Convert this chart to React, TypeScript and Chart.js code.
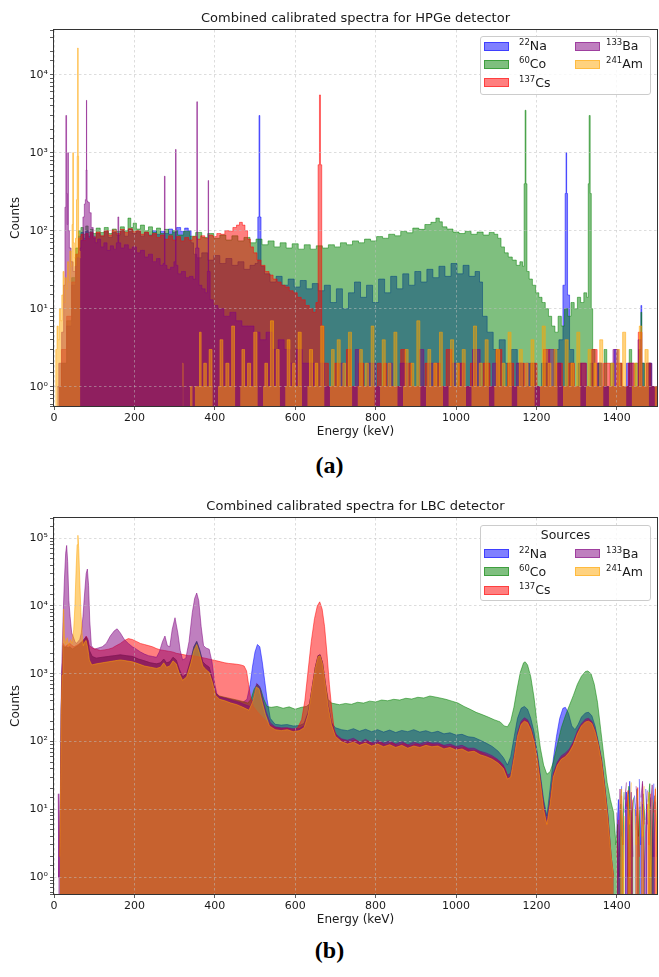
import React, { useEffect, useRef } from "react";
import { Chart, registerables } from "chart.js";
Chart.register(...registerables);

type Pt = [number, number];

// ---------------- shared labels ----------------
const ENERGY_MIN = 0;
const ENERGY_MAX = 1500;
const ENERGY_STEP = 200;
const SOURCE_MASS = ["22", "60", "137", "133", "241"];
const SOURCE_SYMBOL = ["Na", "Co", "Cs", "Ba", "Am"];
const HPGE_TITLE = "Combined calibrated spectra for HPGe detector";
const LBC_TITLE = "Combined calibrated spectra for LBC detector";
const HPGE_COUNTS_RANGE = [0.566, 37400];
const LBC_COUNTS_RANGE = [0.566, 198000];

// ---------------- (a) HPGe spectra: [energy keV, counts] ----------------
const HPGE_NA: Pt[] = [[0,0],[12,1],[25,2],[38,6],[50,20],[58,50],[64,85],[70,95],[76,80],[82,100],[88,85],[94,95],[100,80],[110,92],[120,85],[130,98],[140,82],[150,95],[160,88],[170,100],[180,85],[190,105],[200,92],[210,98],[220,85],[230,95],[240,88],[250,100],[260,90],[270,98],[280,92],[290,105],[300,95],[310,110],[320,98],[330,108],[338,100],[344,70],[350,50],[360,45],[375,52],[390,42],[405,48],[420,38],[435,44],[450,36],[465,40],[480,32],[495,36],[505,38],[509,150],[511,3000],[513,150],[517,35],[530,28],[545,22],[560,26],[575,20],[590,24],[605,19],[620,23],[635,18],[650,21],[665,17],[680,20],[695,12],[710,18],[725,10],[740,16],[755,22],[770,14],[785,20],[800,12],[815,24],[830,16],[845,26],[860,18],[875,28],[890,20],[905,30],[920,22],[935,32],[950,25],[965,35],[980,26],[995,38],[1010,28],[1025,36],[1040,26],[1055,30],[1062,22],[1070,8],[1085,5],[1100,3],[1115,4],[1130,2],[1145,3],[1160,2],[1175,1],[1190,2],[1205,1],[1220,2],[1235,1],[1250,3],[1262,4],[1270,20],[1273,300],[1274.5,1000],[1276,300],[1279,15],[1286,3],[1300,1],[1308,2],[1315,1],[1330,1],[1338,2],[1345,1],[1360,2],[1368,1],[1375,1],[1390,1],[1398,3],[1405,1],[1420,1],[1428,2],[1435,1],[1450,1],[1459,3],[1461,11],[1463,2],[1475,1],[1482,2],[1490,1],[1500,1]];

const HPGE_CO: Pt[] = [[0,0],[12,1],[25,2],[38,7],[50,25],[58,60],[64,100],[70,110],[76,90],[82,115],[88,95],[94,105],[100,92],[110,108],[120,95],[130,110],[140,92],[150,105],[160,98],[170,112],[180,100],[188,145],[194,110],[200,125],[210,105],[220,118],[230,100],[240,112],[250,95],[260,108],[270,92],[280,104],[290,90],[300,100],[315,88],[330,98],[345,85],[360,95],[375,82],[390,92],[405,80],[420,88],[435,76],[450,86],[465,74],[480,82],[495,70],[510,78],[525,66],[540,74],[555,62],[570,70],[585,60],[600,68],[615,58],[630,66],[645,58],[660,64],[675,60],[690,66],[705,62],[720,70],[735,66],[750,74],[765,70],[780,78],[795,74],[810,84],[825,80],[840,90],[855,86],[870,98],[885,94],[900,108],[915,104],[930,120],[945,128],[955,145],[962,130],[970,112],[985,105],[1000,96],[1015,92],[1030,98],[1045,90],[1060,96],[1075,88],[1090,95],[1100,90],[1108,80],[1116,62],[1125,52],[1135,46],[1145,42],[1155,36],[1163,40],[1168,35],[1171,400],[1173,3500],[1175,400],[1178,30],[1186,24],[1194,20],[1202,16],[1210,14],[1218,12],[1226,10],[1234,8],[1242,6],[1250,5],[1258,8],[1266,6],[1274,10],[1282,8],[1290,12],[1298,10],[1306,14],[1314,12],[1322,16],[1328,14],[1330,400],[1332.5,3000],[1335,300],[1338,10],[1342,3],[1350,1],[1356,2],[1365,1],[1372,3],[1378,1],[1390,2],[1396,1],[1402,1],[1410,2],[1415,1],[1428,1],[1434,3],[1440,1],[1452,2],[1459,3],[1461,9],[1463,2],[1475,1],[1483,2],[1488,1],[1500,1]];

const HPGE_CS: Pt[] = [[0,0],[12,1],[25,3],[38,8],[50,22],[58,50],[64,80],[70,90],[76,75],[82,92],[88,80],[94,95],[100,82],[110,96],[120,86],[130,100],[140,88],[150,102],[160,92],[170,104],[180,95],[190,106],[200,98],[210,100],[220,90],[230,96],[240,86],[250,92],[260,82],[270,88],[280,78],[290,86],[300,76],[310,84],[320,74],[330,82],[340,76],[350,84],[360,78],[370,86],[380,80],[390,88],[400,84],[410,92],[420,90],[430,100],[440,98],[450,110],[458,118],[465,128],[472,118],[478,100],[485,78],[492,62],[500,52],[510,42],[520,36],[530,30],[540,27],[550,24],[560,22],[570,20],[580,19],[590,17],[600,16],[610,14],[620,13],[630,11],[640,10],[648,9],[655,12],[659,700],[661.7,5500],[664,700],[668,6],[675,2],[690,1],[706,2],[712,1],[718,1],[737,3],[741,1],[749,1],[768,2],[773,1],[797,1],[812,2],[816,1],[824,2],[830,1],[853,1],[872,3],[876,1],[887,2],[892,1],[917,1],[929,2],[934,1],[958,2],[963,1],[988,3],[992,1],[1019,2],[1024,1],[1048,2],[1053,1],[1082,2],[1087,1],[1112,3],[1116,1],[1141,2],[1146,1],[1168,2],[1173,1],[1199,2],[1204,1],[1231,3],[1235,1],[1262,2],[1267,1],[1292,2],[1297,1],[1321,2],[1326,1],[1349,3],[1353,1],[1381,2],[1386,1],[1411,2],[1416,1],[1441,2],[1446,1],[1461,5],[1464,1],[1481,2],[1486,1],[1500,1]];

const HPGE_BA: Pt[] = [[0,0],[8,1],[16,2],[22,5],[26,20],[28.5,200],[30.5,3000],[32,300],[33.5,120],[35,1000],[36.5,100],[40,60],[45,40],[50,30],[55,35],[60,45],[65,60],[70,75],[74,150],[77,220],[79,250],[80.5,600],[81,4700],[81.5,600],[83,240],[86,230],[90,170],[95,110],[100,85],[105,70],[112,78],[120,62],[128,70],[136,56],[144,64],[152,58],[158,70],[160,150],[162,70],[170,60],[180,66],[190,58],[200,62],[210,52],[220,56],[230,46],[240,50],[250,40],[260,44],[268,36],[274,38],[275.5,500],[277,36],[285,32],[295,34],[301.5,40],[303,1100],[304.5,36],[312,28],[322,30],[332,25],[342,26],[350,24],[354.5,60],[356,4500],[357.5,60],[364,20],[372,18],[380,16],[383,30],[384,440],[385,30],[392,13],[400,11],[415,10],[430,8],[445,9],[460,7],[475,6],[490,6],[505,5],[520,4],[535,5],[550,3],[565,4],[580,3],[595,2],[610,3],[625,2],[640,2],[655,1],[670,2],[675,1],[702,1],[719,2],[724,1],[741,1],[758,3],[762,1],[798,2],[803,1],[822,1],[839,2],[844,1],[878,2],[883,1],[901,1],[918,3],[922,1],[942,2],[947,1],[981,1],[999,2],[1004,1],[1019,2],[1024,1],[1058,3],[1062,1],[1083,1],[1099,2],[1104,1],[1138,1],[1162,2],[1167,1],[1179,2],[1184,1],[1218,1],[1243,3],[1247,1],[1258,2],[1263,1],[1299,1],[1322,2],[1327,1],[1338,1],[1361,2],[1366,1],[1379,1],[1402,3],[1406,1],[1418,1],[1441,2],[1446,1],[1460,4],[1463,1],[1485,2],[1490,1],[1500,1]];

const HPGE_AM: Pt[] = [[0,0],[3,1],[6,3],[9,6],[12,4],[15,10],[18,7],[21,15],[24,30],[26,12],[29,25],[32,18],[35,40],[38,22],[41,55],[44,35],[46,120],[47.5,1000],[49,70],[52,45],[55,80],[57,250],[58.5,900],[59.5,22000],[60.5,900],[62,90],[64,55],[65.5,45],[66.5,0],[192,0],[193,1],[194,0],[204,0],[205,1],[206,0],[214,0],[215,4],[216,0],[226,1],[228,0],[238,0],[239,1],[240,0],[251,0],[252,6],[253,0],[262,1],[264,0],[270,1],[271,0],[280,1],[282,0],[291,3],[292,0],[300,1],[303,0],[310,1],[313,0],[320,2],[322,1],[326,0],[330,1],[334,0],[338,1],[345,1],[347,0],[350,1],[360,1],[364,5],[368,1],[377,2],[381,1],[391,3],[395,1],[404,0],[408,1],[418,4],[422,1],[433,2],[437,1],[447,6],[451,1],[459,0],[463,1],[472,3],[476,1],[487,2],[491,1],[503,5],[507,1],[516,0],[520,1],[529,2],[533,1],[544,7],[548,1],[558,3],[562,1],[571,0],[575,1],[585,4],[589,1],[598,2],[602,1],[613,5],[617,1],[626,0],[630,1],[641,3],[645,1],[654,2],[658,1],[669,6],[673,1],[682,0],[686,1],[695,3],[699,1],[710,4],[714,1],[723,2],[727,1],[738,5],[742,1],[751,0],[755,1],[765,3],[769,1],[780,2],[784,1],[794,6],[798,1],[807,0],[811,1],[822,4],[826,1],[836,2],[840,1],[851,5],[855,1],[864,0],[868,1],[879,3],[883,1],[893,2],[897,1],[908,7],[912,1],[921,0],[925,1],[935,3],[939,1],[950,2],[954,1],[964,5],[968,1],[977,0],[981,1],[992,4],[996,1],[1006,2],[1010,1],[1021,3],[1025,1],[1034,0],[1038,1],[1049,6],[1053,1],[1063,2],[1067,1],[1078,4],[1082,1],[1091,0],[1095,1],[1106,3],[1110,1],[1120,2],[1124,1],[1135,5],[1139,1],[1148,0],[1152,1],[1163,3],[1167,1],[1177,2],[1181,1],[1192,4],[1196,1],[1205,0],[1209,1],[1220,6],[1224,1],[1234,2],[1238,1],[1249,3],[1253,1],[1262,0],[1266,1],[1277,4],[1281,1],[1291,2],[1295,1],[1306,5],[1310,1],[1319,0],[1323,1],[1334,3],[1338,1],[1348,2],[1352,1],[1363,4],[1367,1],[1376,0],[1380,1],[1391,2],[1395,1],[1405,3],[1409,1],[1420,5],[1424,1],[1433,0],[1437,1],[1448,2],[1452,1],[1460,6],[1464,1],[1476,3],[1480,1],[1490,0],[1494,1],[1500,1]];

// ---------------- (b) LBC spectra: [energy keV, counts] ----------------
const LBC_NA: Pt[] = [[0,0],[12,0],[14,2],[16,12],[18,280],[20,1000],[23,2600],[27,2400],[31,2500],[35,2400],[40,2500],[45,2300],[50,2400],[55,2500],[60,2600],[65,2800],[70,3000],[75,3200],[80,3500],[84,3100],[88,2200],[95,1800],[105,1700],[120,1750],[135,1800],[150,1850],[165,1900],[180,1850],[195,1800],[210,1650],[225,1550],[240,1450],[255,1400],[265,1450],[273,1650],[280,1450],[288,1500],[296,1750],[304,1600],[312,1150],[320,900],[330,1000],[340,1600],[348,2500],[355,3000],[362,2300],[370,1500],[378,1350],[386,1250],[394,850],[402,520],[412,460],[425,440],[440,420],[455,400],[470,380],[480,420],[488,700],[494,1300],[500,2100],[506,2700],[512,2500],[518,1500],[524,800],[530,420],[538,220],[550,180],[565,175],[580,178],[595,170],[610,172],[622,185],[632,270],[642,620],[650,1250],[657,1850],[662,1900],[668,1450],[675,730],[682,350],[690,190],[700,160],[715,150],[730,145],[745,155],[760,142],[775,152],[790,140],[805,150],[820,138],[835,148],[850,136],[865,146],[880,140],[895,150],[910,138],[925,145],[940,135],[955,142],[970,130],[985,135],[1000,125],[1015,128],[1030,118],[1045,115],[1060,105],[1075,95],[1090,85],[1105,72],[1118,58],[1128,45],[1136,60],[1145,120],[1153,220],[1162,310],[1170,330],[1178,300],[1186,220],[1194,140],[1202,70],[1210,32],[1218,14],[1226,8],[1234,20],[1242,55],[1250,120],[1258,220],[1266,310],[1272,320],[1280,260],[1288,170],[1296,150],[1304,180],[1312,230],[1322,265],[1330,270],[1338,240],[1346,170],[1354,100],[1362,55],[1370,22],[1378,8],[1386,2],[1392,1],[1396,0],[1400,4],[1404,14],[1408,2],[1412,22],[1416,0],[1420,9],[1424,18],[1428,1],[1432,26],[1436,5],[1440,0],[1444,16],[1448,8],[1452,0],[1456,28],[1460,3],[1464,12],[1468,0],[1472,20],[1476,6],[1480,0],[1484,15],[1488,2],[1492,24],[1496,0],[1500,8]];

const LBC_CO: Pt[] = [[0,0],[12,0],[14,2],[16,12],[18,280],[20,1000],[23,2600],[27,2400],[31,2500],[35,2400],[40,2500],[45,2300],[50,2400],[55,2500],[60,2600],[65,2800],[70,3000],[75,3200],[80,3500],[84,3100],[88,2200],[95,1800],[105,1700],[120,1750],[135,1800],[150,1850],[165,1900],[180,1850],[195,1800],[210,1650],[225,1550],[240,1450],[255,1400],[265,1450],[273,1650],[280,1450],[288,1500],[296,1750],[304,1600],[312,1150],[320,900],[330,1000],[340,1600],[348,2500],[355,3000],[362,2300],[370,1500],[378,1350],[386,1250],[394,850],[402,520],[412,470],[425,450],[440,430],[455,410],[470,390],[482,370],[490,420],[498,600],[506,700],[514,600],[522,420],[530,330],[540,320],[555,330],[570,310],[585,325],[600,300],[615,320],[628,330],[636,360],[642,620],[650,1250],[657,1850],[662,1900],[668,1450],[675,730],[682,420],[690,370],[700,360],[710,350],[725,365],[740,355],[755,380],[770,370],[785,395],[800,385],[815,410],[830,400],[845,420],[860,410],[875,435],[890,425],[905,450],[920,440],[935,470],[948,455],[960,440],[975,420],[990,395],[1005,370],[1020,330],[1035,300],[1050,270],[1065,250],[1080,230],[1095,210],[1110,195],[1120,170],[1128,165],[1136,200],[1144,320],[1152,600],[1160,1050],[1168,1450],[1172,1500],[1178,1350],[1186,900],[1194,450],[1202,180],[1210,80],[1218,45],[1226,33],[1234,36],[1242,50],[1252,90],[1262,160],[1272,240],[1282,340],[1292,480],[1302,700],[1312,920],[1322,1080],[1328,1100],[1336,1000],[1344,700],[1352,380],[1360,150],[1368,60],[1376,25],[1384,14],[1392,9],[1398,3],[1402,6],[1406,1],[1410,12],[1414,3],[1418,18],[1422,0],[1426,10],[1430,22],[1434,2],[1438,8],[1442,15],[1446,0],[1450,20],[1454,4],[1458,11],[1462,0],[1466,17],[1470,7],[1474,0],[1478,13],[1482,24],[1486,1],[1490,9],[1494,16],[1498,0],[1500,5]];

const LBC_CS: Pt[] = [[0,0],[12,0],[14,2],[16,12],[18,300],[20,1000],[23,2800],[27,2500],[31,2600],[35,2700],[40,2800],[45,2600],[50,2500],[55,2600],[60,2700],[65,2800],[70,3000],[75,3200],[80,3600],[84,3300],[88,2600],[95,2400],[105,2300],[115,2200],[125,2250],[135,2300],[145,2400],[155,2600],[165,2800],[175,3100],[185,3300],[195,3200],[205,3000],[215,2800],[225,2700],[235,2600],[245,2500],[255,2350],[265,2250],[275,2200],[285,2150],[295,2100],[305,2000],[315,1950],[325,1900],[335,1850],[345,1850],[355,1800],[365,1750],[375,1700],[385,1650],[395,1600],[405,1550],[415,1500],[425,1450],[435,1420],[445,1400],[455,1380],[465,1350],[473,1300],[479,1100],[484,700],[489,450],[496,330],[505,280],[515,240],[525,210],[538,175],[552,160],[566,155],[580,158],[594,150],[606,160],[616,210],[624,400],[632,1100],[640,3000],[648,6500],[655,10000],[661,11500],[667,9000],[673,5000],[679,2000],[685,700],[691,300],[697,150],[705,115],[720,105],[735,100],[750,106],[765,95],[780,102],[795,92],[810,98],[825,90],[840,96],[855,88],[870,94],[885,86],[900,92],[915,88],[930,94],[945,90],[960,90],[975,84],[990,86],[1005,80],[1020,82],[1035,75],[1050,74],[1065,68],[1080,62],[1095,57],[1110,50],[1122,40],[1130,29],[1138,32],[1146,64],[1154,125],[1162,190],[1170,210],[1178,200],[1186,158],[1194,105],[1202,58],[1210,26],[1218,11],[1226,6],[1234,13],[1242,32],[1252,47],[1262,58],[1272,63],[1282,74],[1292,95],[1302,135],[1312,175],[1322,200],[1330,210],[1338,192],[1346,145],[1354,92],[1362,52],[1370,21],[1378,7],[1386,2],[1392,1],[1396,0],[1400,2],[1404,7],[1408,0],[1412,16],[1416,3],[1420,0],[1424,11],[1428,19],[1432,1],[1436,8],[1440,14],[1444,0],[1448,5],[1452,21],[1456,2],[1460,0],[1464,24],[1468,6],[1472,0],[1476,12],[1480,3],[1484,17],[1488,0],[1492,9],[1496,20],[1500,2]];

const LBC_BA: Pt[] = [[0,0],[9,0],[10.5,17],[12,1],[14,3],[16,20],[18,450],[20,1800],[23,8000],[26,25000],[29,60000],[31.5,78000],[34,45000],[37,12000],[40,7000],[44,4000],[48,3500],[52,3000],[56,2800],[60,3000],[64,3200],[68,4000],[72,7000],[76,15000],[80,30000],[83,35000],[86,20000],[89,6000],[93,2600],[100,2300],[110,2400],[120,2500],[130,2800],[140,3600],[150,4300],[157,4600],[165,4000],[175,3200],[185,2800],[195,2500],[205,2300],[215,2100],[225,1950],[235,1850],[245,1800],[255,1750],[262,2100],[270,3000],[276,3600],[282,2600],[288,2500],[294,4500],[301,6700],[308,4000],[314,2200],[320,1600],[328,1700],[336,3000],[344,8000],[350,13000],[355,15500],[360,12000],[366,5000],[372,2600],[378,2400],[386,2300],[393,1500],[400,700],[406,480],[415,450],[430,430],[445,400],[460,380],[475,350],[488,330],[496,430],[504,720],[512,650],[520,400],[528,270],[538,190],[550,165],[565,160],[580,160],[595,155],[610,155],[622,170],[632,260],[642,620],[650,1250],[657,1850],[662,1900],[668,1450],[675,730],[682,350],[690,195],[700,130],[715,110],[730,105],[745,112],[760,98],[775,108],[790,96],[805,105],[820,95],[835,102],[850,92],[865,100],[880,90],[895,98],[910,92],[925,100],[940,95],[955,96],[970,88],[985,92],[1000,85],[1015,88],[1030,80],[1045,80],[1060,72],[1075,68],[1090,62],[1105,54],[1118,45],[1128,32],[1136,34],[1145,68],[1153,135],[1162,200],[1170,225],[1178,210],[1186,165],[1194,110],[1202,60],[1210,28],[1218,12],[1226,7],[1234,14],[1242,34],[1252,50],[1262,62],[1272,68],[1282,78],[1292,100],[1302,145],[1312,185],[1322,215],[1330,220],[1338,200],[1346,150],[1354,95],[1362,55],[1370,22],[1378,8],[1386,2],[1392,1],[1396,0],[1400,9],[1404,1],[1408,20],[1412,4],[1416,0],[1420,14],[1424,25],[1428,0],[1432,7],[1436,18],[1440,2],[1444,0],[1448,22],[1452,10],[1456,0],[1460,15],[1464,26],[1468,1],[1472,6],[1476,19],[1480,0],[1484,11],[1488,23],[1492,2],[1496,13],[1500,0]];

const LBC_AM: Pt[] = [[0,0],[12,0],[14,2],[16,12],[18,250],[20,950],[22,2500],[24,9000],[26,3500],[29,2800],[33,3400],[37,2600],[41,3200],[45,2800],[49,4500],[52,10000],[55,35000],[57.5,80000],[59.5,110000],[61.5,70000],[64,25000],[67,8000],[70,3800],[73,2600],[77,3000],[80,3100],[84,2400],[88,1600],[94,1350],[105,1400],[120,1450],[135,1500],[150,1550],[165,1600],[180,1550],[195,1500],[210,1400],[225,1300],[240,1250],[255,1200],[265,1250],[273,1450],[280,1250],[288,1300],[296,1550],[304,1400],[312,1000],[320,800],[330,900],[340,1400],[348,2200],[355,2700],[362,2000],[370,1300],[378,1150],[386,1050],[394,750],[402,480],[412,420],[425,400],[440,370],[455,350],[470,320],[485,290],[495,400],[503,640],[510,600],[518,380],[526,250],[536,170],[550,150],[565,145],[580,150],[595,140],[610,145],[622,160],[632,250],[642,600],[650,1200],[657,1800],[662,1850],[668,1400],[675,700],[682,330],[690,180],[700,120],[715,100],[730,92],[745,98],[760,88],[775,95],[790,86],[805,92],[820,84],[835,90],[850,82],[865,88],[880,80],[895,86],[910,82],[925,88],[940,84],[955,86],[970,78],[985,82],[1000,75],[1015,78],[1030,70],[1045,72],[1060,64],[1075,60],[1090,55],[1105,48],[1118,40],[1128,28],[1136,30],[1145,60],[1153,120],[1162,180],[1170,200],[1178,190],[1186,150],[1194,100],[1202,55],[1210,25],[1218,10],[1226,6],[1234,12],[1242,30],[1252,45],[1262,55],[1272,60],[1282,70],[1292,90],[1302,130],[1312,170],[1322,195],[1330,200],[1338,185],[1346,140],[1354,90],[1362,50],[1370,20],[1378,7],[1386,2],[1392,1],[1396,0],[1400,5],[1404,0],[1408,12],[1412,20],[1416,1],[1420,8],[1424,0],[1428,17],[1432,6],[1436,25],[1440,0],[1444,10],[1448,3],[1452,19],[1456,0],[1460,13],[1464,4],[1468,22],[1472,0],[1476,9],[1480,18],[1484,1],[1488,14],[1492,0],[1496,21],[1500,4]];

const HPGE_SERIES = [HPGE_NA, HPGE_CO, HPGE_CS, HPGE_BA, HPGE_AM];
const LBC_SERIES = [LBC_NA, LBC_CO, LBC_CS, LBC_BA, LBC_AM];

// ---------------- styling ----------------
const RGB = ["0,0,255", "0,128,0", "255,0,0", "128,0,128", "255,165,0"];
const FONT = "'DejaVu Sans', 'Noto Sans', sans-serif";
const TEXT = "#1a1a1a";
const GRID = "rgba(190,190,190,0.65)";
const SUP: Record<string, string> = { "0": "⁰", "1": "¹", "2": "²", "3": "³", "4": "⁴", "5": "⁵", "6": "⁶", "-": "⁻" };

function isDecade(v: number) {
  if (!(v > 0)) return false;
  const e = Math.log10(v);
  return Math.abs(e - Math.round(e)) < 1e-6;
}
function decadeLabel(v: number) {
  if (!isDecade(v)) return "";
  const e = Math.round(Math.log10(v));
  return "10" + String(e).split("").map((c) => SUP[c]).join("");
}

const framePlugin = {
  id: "frame",
  afterDraw(chart: any) {
    const { ctx, chartArea: a } = chart;
    ctx.save();
    ctx.strokeStyle = "#333";
    ctx.lineWidth = 1;
    ctx.strokeRect(Math.round(a.left) - 0.5, Math.round(a.top) - 0.5, Math.round(a.right - a.left) + 1, Math.round(a.bottom - a.top) + 1);
    ctx.restore();
  },
};

function SpectrumChart(props: { title: string; series: Pt[][]; range: number[]; top: number; stepped: boolean }) {
  const ref = useRef<HTMLCanvasElement>(null);
  useEffect(() => {
    const datasets = props.series.map((s, i) => ({
      label: SOURCE_MASS[i] + SOURCE_SYMBOL[i],
      data: s.map(([x, y]) => ({ x, y })),
      borderColor: `rgba(${RGB[i]},0.5)`,
      backgroundColor: `rgba(${RGB[i]},0.5)`,
      borderWidth: 1,
      pointRadius: 0,
      tension: 0,
      stepped: props.stepped ? "middle" : false,
      fill: "start",
      order: props.series.length - i,
    }));
    const chart = new Chart(ref.current as HTMLCanvasElement, {
      type: "line",
      data: { datasets } as any,
      options: {
        animation: false,
        responsive: false,
        devicePixelRatio: 1,
        events: [],
        layout: { padding: { left: 0, right: 2, top: 0, bottom: 0 } },
        plugins: {
          legend: { display: false },
          tooltip: { enabled: false },
          title: {
            display: true,
            text: props.title,
            color: TEXT,
            fullSize: false,
            font: { family: FONT, size: 13, weight: "normal" },
            padding: { top: 10.4, bottom: 4 },
          },
        },
        scales: {
          x: {
            type: "linear",
            min: ENERGY_MIN,
            max: ENERGY_MAX,
            ticks: { stepSize: ENERGY_STEP, includeBounds: false, color: TEXT, font: { family: FONT, size: 11 }, padding: 2, maxRotation: 0, callback: (v: any) => String(v) },
            grid: { color: GRID, lineWidth: 0.8, z: 1, tickColor: "#333", tickLength: 4 },
            border: { display: false, dash: [2.5, 2.5] },
            title: { display: true, text: "Energy (keV)", color: TEXT, font: { family: FONT, size: 12 }, padding: { top: 0, bottom: 1 } },
            afterFit: (s: any) => { s.height = 34; },
          },
          y: {
            type: "logarithmic",
            min: props.range[0],
            max: props.range[1],
            ticks: { autoSkip: false, color: TEXT, font: { family: FONT, size: 11 }, padding: 2, callback: (v: any) => decadeLabel(Number(v)) },
            grid: {
              color: (c: any) => (c.tick && isDecade(c.tick.value) ? GRID : "rgba(0,0,0,0)"),
              lineWidth: 0.8,
              z: 1,
              tickColor: "#333",
              tickLength: 4,
            } as any,
            border: { display: false, dash: [2.5, 2.5] },
            title: { display: true, text: "Counts", color: TEXT, font: { family: FONT, size: 12 }, padding: { top: 9, bottom: 0 } },
            afterFit: (s: any) => { s.width = 54; },
          },
        },
      } as any,
      plugins: [framePlugin],
    });
    return () => chart.destroy();
  }, []);
  return <canvas ref={ref} width={659} height={440} style={{ position: "absolute", left: 0, top: props.top, width: 659, height: 440 }} />;
}

function Legend(props: { left: number; top: number; height: number; title?: string }) {
  const rowStart = props.title ? 28.5 : 10;
  return (
    <div
      style={{
        position: "absolute", left: props.left, top: props.top, width: 171, height: props.height,
        background: "rgba(255,255,255,0.8)", border: "1px solid #cccccc", borderRadius: 3,
        boxSizing: "border-box", fontFamily: FONT, fontSize: 12.5, color: TEXT,
      }}
    >
      {props.title && (
        <div style={{ position: "absolute", left: 0, width: 169, top: 1, textAlign: "center", lineHeight: "16px" }}>{props.title}</div>
      )}
      {SOURCE_SYMBOL.map((sym, i) => {
        const col = i < 3 ? 0 : 1;
        const row = i < 3 ? i : i - 3;
        const cy = rowStart + row * 18.3;
        return (
          <React.Fragment key={sym}>
            <div style={{
              position: "absolute", left: col ? 94 : 3, top: cy - 5.5, width: 25, height: 9,
              background: `rgba(${RGB[i]},0.5)`, border: `1px solid rgba(${RGB[i]},0.5)`, boxSizing: "border-box",
            }} />
            <div style={{ position: "absolute", left: col ? 125 : 38, top: cy - 9, lineHeight: "16px", whiteSpace: "nowrap" }}>
              <sup style={{ fontSize: 8.5, verticalAlign: "5px", lineHeight: 0 }}>{SOURCE_MASS[i]}</sup>{sym}
            </div>
          </React.Fragment>
        );
      })}
    </div>
  );
}

const captionStyle: React.CSSProperties = {
  position: "absolute", left: 0, width: 659, textAlign: "center",
  fontFamily: "'Liberation Serif', 'DejaVu Serif', serif", fontWeight: "bold", fontSize: 24, lineHeight: "28px", color: "#000",
};

export default function App() {
  return (
    <div style={{ position: "absolute", left: 0, top: 0, width: 659, height: 977, background: "#fff", overflow: "hidden" }}>
      <SpectrumChart title={HPGE_TITLE} series={HPGE_SERIES} range={HPGE_COUNTS_RANGE} top={0} stepped={true} />
      <Legend left={480} top={36} height={59} />
      <div style={{ ...captionStyle, top: 451 }}>(a)</div>
      <SpectrumChart title={LBC_TITLE} series={LBC_SERIES} range={LBC_COUNTS_RANGE} top={488} stepped={false} />
      <Legend left={480} top={525} height={76} title="Sources" />
      <div style={{ ...captionStyle, top: 936 }}>(b)</div>
    </div>
  );
}
